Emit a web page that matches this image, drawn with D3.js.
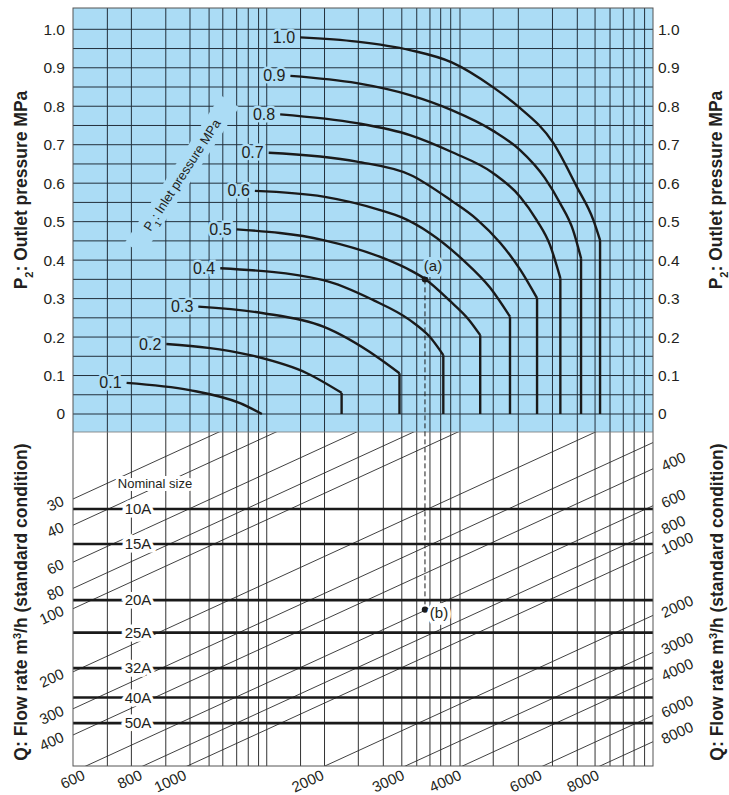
<!DOCTYPE html>
<html>
<head>
<meta charset="utf-8">
<script src="https://cdn.jsdelivr.net/npm/d3@7"></script>
<style>
body { margin: 0; background: #fff; }
text { font-family: "Liberation Sans", Arial, Helvetica, sans-serif; fill: #231f20; }
</style>
</head>
<body>
<script>
// ---- data ----
// upper panel: P2 outlet pressure (MPa) vs flow index (log), one curve per inlet pressure P1
const outletTicks = [0, 0.1, 0.2, 0.3, 0.4, 0.5, 0.6, 0.7, 0.8, 0.9, 1.0]
const outletTickLabels = ['0', '0.1', '0.2', '0.3', '0.4', '0.5', '0.6', '0.7', '0.8', '0.9', '1.0']
const inletLabels = ['0.1', '0.2', '0.3', '0.4', '0.5', '0.6', '0.7', '0.8', '0.9', '1.0']

// [flow index, P2] along each curve, last point is where it turns vertical (choked)
const p1_01 = [[1.31, 0.081], [1.80, 0.062], [2.32, 0.028], [2.59, 0.0]]
const p1_02 = [[1.60, 0.182], [2.44, 0.153], [3.25, 0.106], [3.87, 0.055]]
const p1_03 = [[1.88, 0.279], [2.61, 0.262], [3.53, 0.227], [4.62, 0.149], [5.18, 0.106]]
const p1_04 = [[2.10, 0.379], [3.53, 0.348], [4.54, 0.296], [5.46, 0.244], [6.04, 0.200], [6.46, 0.153]]
const p1_05 = [[2.28, 0.480], [3.53, 0.452], [4.78, 0.405], [5.46, 0.374], [5.89, 0.351], [6.65, 0.296], [7.36, 0.244], [7.78, 0.205]]
const p1_06 = [[2.50, 0.580], [3.53, 0.565], [4.70, 0.530], [5.24, 0.511], [6.04, 0.470], [7.14, 0.400], [8.18, 0.328], [9.04, 0.253]]
const p1_07 = [[2.68, 0.679], [4.18, 0.656], [5.46, 0.622], [6.74, 0.554], [7.65, 0.506], [8.60, 0.445], [9.51, 0.376], [10.36, 0.301]]
const p1_08 = [[2.84, 0.779], [4.18, 0.756], [5.46, 0.725], [6.74, 0.681], [8.31, 0.626], [9.51, 0.565], [10.34, 0.504], [11.06, 0.439], [11.65, 0.353]]
const p1_09 = [[2.99, 0.879], [4.18, 0.860], [5.46, 0.829], [6.74, 0.790], [8.31, 0.736], [9.51, 0.686], [10.78, 0.613], [11.63, 0.548], [12.42, 0.478], [12.93, 0.405]]
const p1_10 = [[3.14, 0.979], [4.18, 0.968], [5.46, 0.946], [6.74, 0.914], [8.31, 0.849], [9.43, 0.799], [11.25, 0.704], [12.65, 0.591], [13.76, 0.504], [14.23, 0.452]]
const inletCurves = [p1_01, p1_02, p1_03, p1_04, p1_05, p1_06, p1_07, p1_08, p1_09, p1_10]

// vertical grid lines (flow index)
const flowGrid = [1.189, 1.342, 1.596, 1.803, 1.985, 2.127, 2.281, 2.418, 2.547, 2.654, 3.147, 3.551, 4.210,
  4.775, 5.241, 5.651, 6.040, 6.375, 6.705, 7.027, 8.308, 9.427, 11.197, 12.689, 13.876, 14.963, 15.996, 16.891, 17.809]

// lower panel: nominal sizes (size factor) and flow-rate lines Q m3/h
const sizeNames = ['10A', '15A', '20A', '25A', '32A', '40A', '50A']
const sizeFactor = [33.5, 49.2, 91, 130, 192, 265, 351]
const flowLines = [30, 40, 60, 80, 100, 200, 300, 400, 600, 800, 1000, 2000, 3000, 4000, 6000, 8000]
const flowLeftLabels = [30, 40, 60, 80, 100, 200, 300, 400]
const flowRightLabels = [400, 600, 800, 1000, 2000, 3000, 4000, 6000, 8000]
const flowBottomLabels = [600, 800, 1000, 2000, 3000, 4000, 6000, 8000]

// worked example
const pointA = [5.89, 0.35]   // flow index, P2
const pointB = [5.89, 101]    // flow index, size factor

// ---- layout ----
const W = 729, H = 795
const plotL = 73, plotR = 653, plotT = 8, plotMid = 432, plotB = 766
const BLUE = '#abdcf5', GRID = '#22303c', INK = '#1a1a1a'
const ANGLE = -24.7

const svg = d3.select('body').append('svg')
    .attr('width', W)
    .attr('height', H)
    .style('display', 'block')
svg.append('rect').attr('width', W).attr('height', H).attr('fill', '#fff')

const x = d3.scaleLog().domain([1, 18.58]).range([plotL, plotR])
const yP = d3.scaleLinear().domain([0, 1]).range([414, 29.3])
const yK = d3.scaleLog().domain([30, 400]).range([499, 735])

const defs = svg.append('defs')
defs.append('clipPath').attr('id', 'clipTop').append('rect')
    .attr('x', plotL).attr('y', plotT).attr('width', plotR - plotL).attr('height', plotMid - plotT)
defs.append('clipPath').attr('id', 'clipBot').append('rect')
    .attr('x', plotL).attr('y', plotMid).attr('width', plotR - plotL).attr('height', plotB - plotMid)

// ---- upper panel ----
const upper = svg.append('g').attr('clip-path', 'url(#clipTop)')
upper.append('rect')
    .attr('x', plotL).attr('y', plotT).attr('width', plotR - plotL).attr('height', plotMid - plotT)
    .attr('fill', BLUE)

upper.selectAll('.hgrid')
    .data(d3.range(0, 21).map(i => i * 0.05)).enter()
    .append('line')
    .attr('x1', plotL).attr('x2', plotR)
    .attr('y1', d => yP(d)).attr('y2', d => yP(d))
    .attr('stroke', GRID).attr('stroke-width', 1)

upper.selectAll('.vgrid')
    .data(flowGrid).enter()
    .append('line')
    .attr('x1', d => x(d)).attr('x2', d => x(d))
    .attr('y1', plotT).attr('y2', plotMid)
    .attr('stroke', GRID).attr('stroke-width', 1)

// inlet pressure caption with its own blue box
const cap = upper.append('g').attr('transform', 'translate(182,175) rotate(-57)')
cap.append('rect').attr('x', -88).attr('y', -11).attr('width', 176).attr('height', 22).attr('fill', BLUE)
const capText = cap.append('text')
    .attr('text-anchor', 'middle').attr('dy', '0.35em')
    .style('font-size', '13px')
capText.append('tspan').text('P')
capText.append('tspan').attr('baseline-shift', 'sub').style('font-size', '9px').text('1')
capText.append('tspan').text(': Inlet pressure MPa')

const curveLine = d3.line()
    .x(d => x(d[0]))
    .y(d => yP(d[1]))
    .curve(d3.curveMonotoneX)

inletCurves.forEach((pts, i) => {
    upper.append('path')
        .attr('d', curveLine(pts))
        .attr('fill', 'none').attr('stroke', INK).attr('stroke-width', 2.4)
    const last = pts[pts.length - 1]
    if (last[1] > 0) {
        upper.append('path')
            .attr('d', d3.line().x(d => x(d[0])).y(d => yP(d[1]))([last, [last[0], 0]]))
            .attr('fill', 'none').attr('stroke', INK).attr('stroke-width', 2.4)
    }
    upper.append('text')
        .attr('x', x(pts[0][0]) - 5)
        .attr('y', yP(pts[0][1]))
        .attr('dy', '0.35em')
        .attr('text-anchor', 'end')
        .style('font-size', '16px')
        .attr('stroke', BLUE).attr('stroke-width', 5).attr('paint-order', 'stroke')
        .text(inletLabels[i])
})

// ---- lower panel ----
const lower = svg.append('g').attr('clip-path', 'url(#clipBot)')
lower.selectAll('.vgrid')
    .data(flowGrid).enter()
    .append('line')
    .attr('x1', d => x(d)).attr('x2', d => x(d))
    .attr('y1', plotMid).attr('y2', plotB)
    .attr('stroke', '#333').attr('stroke-width', 1)

const X0 = x.domain()[0], X1 = x.domain()[1]
lower.selectAll('.qline')
    .data(flowLines).enter()
    .append('line')
    .attr('x1', x(X0)).attr('y1', d => yK(d / X0))
    .attr('x2', x(X1)).attr('y2', d => yK(d / X1))
    .attr('stroke', '#2b2b2b').attr('stroke-width', 0.9)

lower.selectAll('.size')
    .data(sizeFactor).enter()
    .append('line')
    .attr('x1', plotL).attr('x2', plotR)
    .attr('y1', d => yK(d)).attr('y2', d => yK(d))
    .attr('stroke', INK).attr('stroke-width', 2.6)

lower.selectAll('.sizeLabel')
    .data(sizeFactor).enter()
    .append('text')
    .attr('x', 138).attr('y', d => yK(d)).attr('dy', '0.35em')
    .attr('text-anchor', 'middle')
    .style('font-size', '15px')
    .attr('stroke', '#fff').attr('stroke-width', 7).attr('paint-order', 'stroke')
    .text((d, i) => sizeNames[i])

lower.append('text')
    .attr('x', 155).attr('y', 483).attr('dy', '0.35em')
    .attr('text-anchor', 'middle')
    .style('font-size', '13px')
    .attr('stroke', '#fff').attr('stroke-width', 6).attr('paint-order', 'stroke')
    .text('Nominal size')

// frame
svg.append('rect')
    .attr('x', plotL).attr('y', plotT).attr('width', plotR - plotL).attr('height', plotB - plotT)
    .attr('fill', 'none').attr('stroke', '#555').attr('stroke-width', 1)
svg.append('line')
    .attr('x1', plotL).attr('x2', plotR).attr('y1', plotMid).attr('y2', plotMid)
    .attr('stroke', '#777').attr('stroke-width', 0.8)

// worked example (a) -> (b)
svg.append('line')
    .attr('x1', x(pointA[0])).attr('x2', x(pointB[0]))
    .attr('y1', yP(pointA[1])).attr('y2', yK(pointB[1]))
    .attr('stroke', INK).attr('stroke-width', 1).attr('stroke-dasharray', '5,3')
svg.append('circle').attr('cx', x(pointA[0])).attr('cy', yP(pointA[1])).attr('r', 3.2).attr('fill', INK)
svg.append('circle').attr('cx', x(pointB[0])).attr('cy', yK(pointB[1])).attr('r', 3.2).attr('fill', INK)
svg.append('text')
    .attr('x', x(pointA[0]) + 8).attr('y', yP(pointA[1]) - 14).attr('dy', '0.35em')
    .attr('text-anchor', 'middle').style('font-size', '15px')
    .attr('stroke', BLUE).attr('stroke-width', 6).attr('paint-order', 'stroke')
    .text('(a)')
svg.append('text')
    .attr('x', x(pointB[0]) + 14).attr('y', yK(pointB[1]) + 3).attr('dy', '0.35em')
    .attr('text-anchor', 'middle').style('font-size', '15px')
    .attr('stroke', '#fff').attr('stroke-width', 7).attr('paint-order', 'stroke')
    .text('(b)')

// ---- axes: outlet pressure ----
const axL = svg.append('g')
    .attr('transform', `translate(${plotL},0)`)
    .call(d3.axisLeft(yP).tickValues(outletTicks).tickSize(0).tickPadding(8)
        .tickFormat((d, i) => outletTickLabels[i]))
const axR = svg.append('g')
    .attr('transform', `translate(${plotR},0)`)
    .call(d3.axisRight(yP).tickValues(outletTicks).tickSize(0).tickPadding(5)
        .tickFormat((d, i) => outletTickLabels[i]))
;[axL, axR].forEach(ax => {
    ax.select('.domain').remove()
    ax.selectAll('text').style('font-size', '15.5px').attr('fill', '#231f20')
        .style('font-family', '"Liberation Sans", Arial, sans-serif')
})

// ---- flow rate labels (rotated along the diagonals) ----
const qLabel = (xp, yp, anchor, t) => {
    svg.append('text')
        .attr('transform', `translate(${xp},${yp}) rotate(${ANGLE})`)
        .attr('text-anchor', anchor).attr('dy', '0.35em')
        .style('font-size', '15px')
        .text(t)
}
flowLeftLabels.forEach(q => qLabel(plotL - 10, yK(q / X0) + 1, 'end', q))
flowRightLabels.forEach(q => qLabel(plotR + 9, yK(q / X1) - 2, 'start', q))
const kBottom = yK.invert(plotB)
flowBottomLabels.forEach(q => qLabel(x(q / kBottom) - 2, plotB + 8, 'end', q))

// ---- axis titles ----
const title = (xp, yp, parts) => {
    const t = svg.append('text')
        .attr('transform', `translate(${xp},${yp}) rotate(-90)`)
        .attr('text-anchor', 'middle').attr('dy', '0.35em')
        .style('font-size', '17.5px').style('font-weight', 'bold')
    parts.forEach(p => {
        const s = t.append('tspan').text(p[0])
        if (p[1]) s.attr('baseline-shift', p[1]).style('font-size', '11px')
    })
}
const p2Title = [['P'], ['2', 'sub'], [': Outlet pressure MPa']]
const qTitle = [['Q: Flow rate m'], ['3', 'super'], ['/h (standard condition)']]
title(21, 190, p2Title)
title(716, 190, p2Title)
title(21, 602, qTitle)
title(717, 602, qTitle)
</script>
</body>
</html>
